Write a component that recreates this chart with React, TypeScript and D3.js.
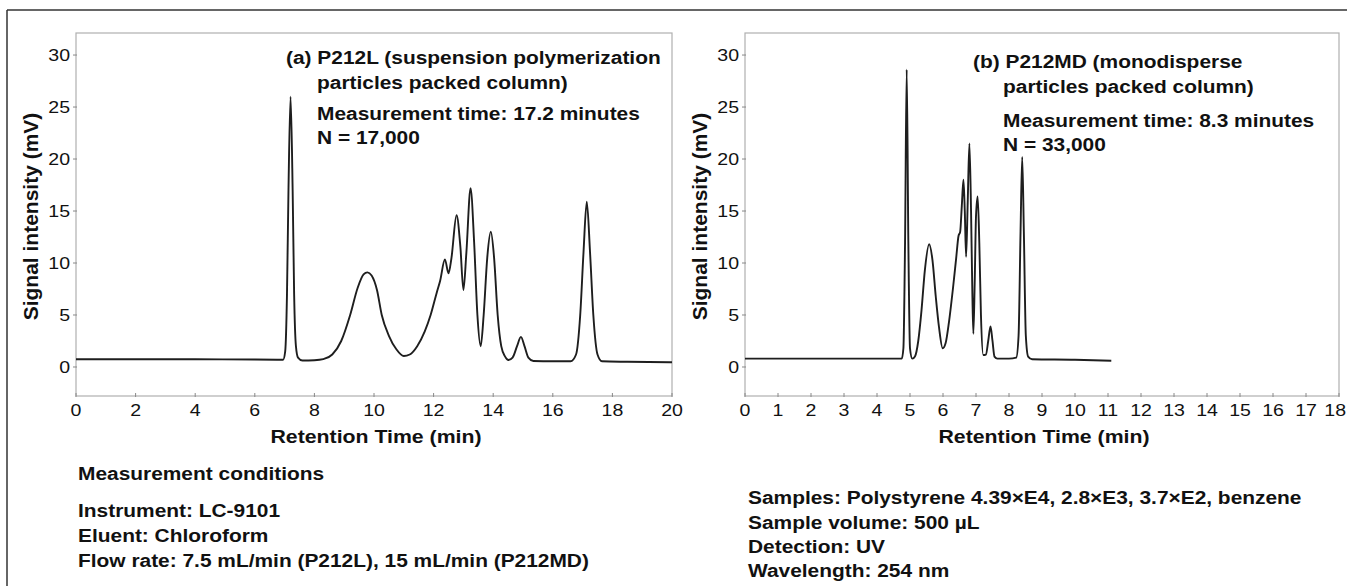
import React from "react";
import * as d3 from "d3";

// ---------- data ----------
const leftTime = [0, 2, 4, 6, 6.95, 7.02, 7.08, 7.13, 7.2, 7.27, 7.32, 7.38, 7.45, 7.6, 8.0, 8.3, 8.6, 8.9, 9.2, 9.45, 9.65, 9.78, 9.92, 10.1, 10.26, 10.5, 10.75, 11.0, 11.2, 11.45, 11.7, 11.9, 12.1, 12.22, 12.38, 12.5, 12.6, 12.77, 12.9, 13.0, 13.1, 13.24, 13.36, 13.47, 13.58, 13.68, 13.8, 13.92, 14.03, 14.15, 14.27, 14.4, 14.51, 14.65, 14.8, 14.93, 15.05, 15.18, 15.35, 16.0, 16.6, 16.78, 16.92, 17.03, 17.14, 17.25, 17.36, 17.5, 17.65, 18.5, 20];
const leftSignal = [0.75, 0.75, 0.74, 0.72, 0.7, 1.5, 7, 17, 26, 17, 7, 2, 0.9, 0.62, 0.65, 0.75, 1.2, 2.5, 5.0, 7.6, 8.9, 9.1, 8.8, 7.4, 5.0, 3.0, 1.7, 1.05, 1.2, 2.0, 3.4, 5.0, 7.1, 8.3, 10.35, 9.0, 10.5, 14.6, 11.5, 7.4, 11, 17.2, 12, 5, 2.0, 5, 10.5, 13.0, 10.5, 5, 2.0, 1.0, 0.67, 0.9, 2.0, 2.9, 2.0, 0.9, 0.58, 0.55, 0.55, 1.2, 5, 11, 15.9, 11, 5, 1.2, 0.55, 0.5, 0.45];

const rightTime = [0, 2, 4, 4.75, 4.8, 4.85, 4.9, 4.95, 5.0, 5.07, 5.15, 5.25, 5.35, 5.45, 5.58, 5.68, 5.78, 5.88, 5.99, 6.08, 6.18, 6.3, 6.4, 6.47, 6.52, 6.57, 6.62, 6.66, 6.7, 6.75, 6.8, 6.85, 6.89, 6.92, 6.96, 7.0, 7.05, 7.1, 7.15, 7.22, 7.3, 7.37, 7.44, 7.5, 7.56, 7.65, 8.0, 8.22, 8.29, 8.35, 8.4, 8.45, 8.51, 8.58, 8.7, 10, 11.1];
const rightSignal = [0.8, 0.8, 0.8, 0.8, 1.8, 12, 28.6, 12, 1.8, 0.8, 1.0, 2.5, 5.5, 9.3, 11.8, 10.3, 6.8, 3.8, 1.8, 2.3, 4.3, 7.5, 10.5, 12.6, 13, 15.5, 18.0, 15, 10.6, 16, 21.5, 15, 7, 3.2, 8, 14.5, 16.4, 12, 5, 1.15, 1.2, 2.5, 3.9, 2.5, 1.0, 0.8, 0.8, 0.9, 3, 13, 20.2, 13, 3, 1.0, 0.75, 0.7, 0.6];

const yTicks = [0, 5, 10, 15, 20, 25, 30];
const leftXTicks = [0, 2, 4, 6, 8, 10, 12, 14, 16, 18, 20];
const rightXTicks = d3.range(0, 19);

const leftNotes = [
  "(a) P212L (suspension polymerization",
  "particles packed column)",
  "Measurement time: 17.2 minutes",
  "N = 17,000",
];
const rightNotes = [
  "(b) P212MD (monodisperse",
  "particles packed column)",
  "Measurement time: 8.3 minutes",
  "N = 33,000",
];
const conditionsLeft = [
  "Measurement conditions",
  "Instrument: LC-9101",
  "Eluent: Chloroform",
  "Flow rate: 7.5 mL/min (P212L), 15 mL/min (P212MD)",
];
const conditionsRight = [
  "Samples: Polystyrene 4.39×E4, 2.8×E3, 3.7×E2, benzene",
  "Sample volume: 500 µL",
  "Detection: UV",
  "Wavelength: 254 nm",
];

// ---------- layout ----------
const W = 1347;
const H = 586;
const FONT = "'Liberation Sans', Arial, Helvetica, sans-serif";
const plotTop = 33;
const plotBottom = 396;

type PanelProps = {
  x0: number;
  x1: number;
  xMax: number;
  xTicks: number[];
  times: number[];
  values: number[];
  yTitleX: number;
  notes: string[];
  noteX: number;
  noteIndentX: number;
  noteYs: number[];
};

function Panel(p: PanelProps) {
  const x = d3.scaleLinear().domain([0, p.xMax]).range([p.x0, p.x1]);
  const y = d3.scaleLinear().domain([-2.79, 32.12]).range([plotBottom, plotTop]);
  const pts = p.times.map((t, i) => [t, p.values[i]] as [number, number]);
  const line = d3
    .line<[number, number]>()
    .x((d) => x(d[0]))
    .y((d) => y(d[1]))
    .curve(d3.curveMonotoneX);
  const cx = (p.x0 + p.x1) / 2;
  return (
    <g>
      <rect
        x={p.x0}
        y={plotTop}
        width={p.x1 - p.x0}
        height={plotBottom - plotTop}
        fill="#fff"
        stroke="#b0b0b0"
        strokeWidth={1.2}
      />
      {yTicks.map((v) => (
        <g key={"y" + v}>
          <line x1={p.x0 - 3} x2={p.x0 + 1} y1={y(v)} y2={y(v)} stroke="#888" strokeWidth={1} />
          <text
            transform={`translate(${p.x0 - 6},${y(v) + 6}) scale(1.15,1)`}
            textAnchor="end"
            fontFamily={FONT}
            fontSize={17}
            fill="#111"
          >
            {v}
          </text>
        </g>
      ))}
      {p.xTicks.map((t, i) => {
        const last = i === p.xTicks.length - 1 && x(t) + 12 > W;
        return (
          <g key={"x" + t}>
            <line x1={x(t)} x2={x(t)} y1={plotBottom - 3} y2={plotBottom + 1} stroke="#888" strokeWidth={1} />
            <text
              transform={`translate(${last ? W - 1 : x(t)},${plotBottom + 20}) scale(1.15,1)`}
              textAnchor={last ? "end" : "middle"}
              fontFamily={FONT}
              fontSize={17}
              fill="#111"
            >
              {t}
            </text>
          </g>
        );
      })}
      <path d={line(pts) || ""} fill="none" stroke="#1e1e1e" strokeWidth={1.9} strokeLinejoin="round" />
      <text
        transform={`translate(${p.yTitleX},${(plotTop + plotBottom) / 2 + 2}) rotate(-90)`}
        textAnchor="middle"
        fontFamily={FONT}
        fontWeight="bold"
        fontSize={21}
        fill="#111"
      >
        Signal intensity (mV)
      </text>
      <text
        transform={`translate(${cx + 2},443) scale(1.12,1)`}
        textAnchor="middle"
        fontFamily={FONT}
        fontWeight="bold"
        fontSize={19}
        fill="#111"
      >
        Retention Time (min)
      </text>
      {p.notes.map((s, i) => (
        <text
          key={"n" + i}
          transform={`translate(${i === 0 ? p.noteX : p.noteIndentX},${p.noteYs[i]}) scale(1.1,1)`}
          fontFamily={FONT}
          fontWeight="bold"
          fontSize={19}
          fill="#111"
        >
          {s}
        </text>
      ))}
    </g>
  );
}

export default function App() {
  return (
    <svg width={W} height={H} style={{ display: "block", position: "absolute", left: 0, top: 0 }}>
      <rect x={0} y={0} width={W} height={H} fill="#fff" />
      <line x1={7} y1={10} x2={W} y2={10} stroke="#333" strokeWidth={1.5} />
      <line x1={7} y1={10} x2={7} y2={H} stroke="#333" strokeWidth={1.5} />
      <Panel
        x0={76}
        x1={672}
        xMax={20}
        xTicks={leftXTicks}
        times={leftTime}
        values={leftSignal}
        yTitleX={38}
        notes={leftNotes}
        noteX={286}
        noteIndentX={317}
        noteYs={[64, 89, 120, 144]}
      />
      <Panel
        x0={745}
        x1={1339}
        xMax={18}
        xTicks={rightXTicks}
        times={rightTime}
        values={rightSignal}
        yTitleX={707}
        notes={rightNotes}
        noteX={973}
        noteIndentX={1003}
        noteYs={[68, 93, 127, 151]}
      />
      {conditionsLeft.map((s, i) => (
        <text
          key={"cl" + i}
          transform={`translate(78,${[480, 517, 542, 567][i]}) scale(1.1,1)`}
          fontFamily={FONT}
          fontWeight="bold"
          fontSize={19}
          fill="#111"
        >
          {s}
        </text>
      ))}
      {conditionsRight.map((s, i) => (
        <text
          key={"cr" + i}
          transform={`translate(748,${[504, 529, 553, 577][i]}) scale(1.1,1)`}
          fontFamily={FONT}
          fontWeight="bold"
          fontSize={19}
          fill="#111"
        >
          {s}
        </text>
      ))}
    </svg>
  );
}
